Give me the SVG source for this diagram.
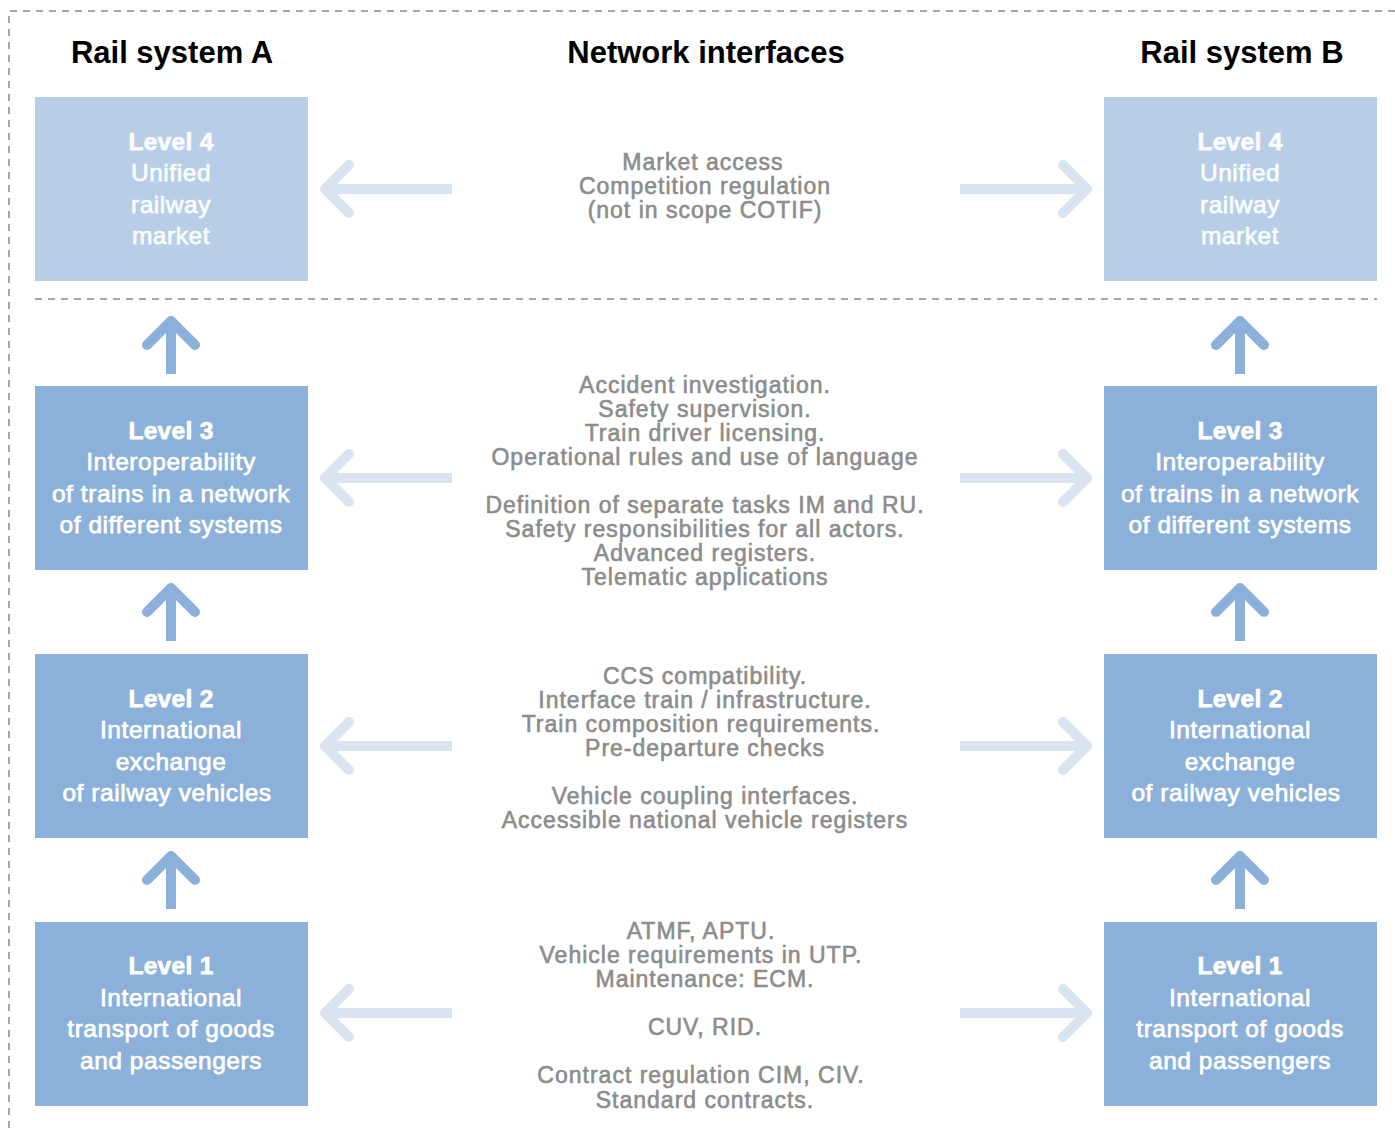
<svg xmlns="http://www.w3.org/2000/svg" width="1395" height="1128" viewBox="0 0 1395 1128">
<style>
.dash{fill:none;stroke:#aaa5a1;stroke-width:2;stroke-dasharray:7 6}
.hdr{font-family:"Liberation Sans",Arial,sans-serif;font-weight:bold;font-size:31px;fill:#000;text-anchor:middle}
.box{fill:#8bb0d9}
.box4{fill:#b8cde6}
.bt{font-family:"Liberation Sans",Arial,sans-serif;font-size:24.5px;letter-spacing:0.55px;fill:#fff;stroke:#fff;stroke-width:0.75px;text-anchor:middle}
.bt4{fill:#f8fbff;stroke:#f8fbff}
.b{font-weight:bold;letter-spacing:0.3px}
.ct{font-family:"Liberation Sans",Arial,sans-serif;font-size:23px;letter-spacing:1px;fill:#8c8c8c;stroke:#8c8c8c;stroke-width:0.6px;text-anchor:middle}
.up,.uph{fill:none;stroke:#8bb0d9;stroke-width:10;stroke-linejoin:round}
.uph{stroke-linecap:round}
.side,.sideh{fill:none;stroke:#dae4f0;stroke-width:10;stroke-linejoin:round}
.sideh{stroke-linecap:round}
</style>
<rect width="1395" height="1128" fill="#fff"/>
<path class="dash" d="M9 1128 V11 H1395"/>
<path class="dash" d="M35 299 H1377"/>
<text class="hdr" x="172" y="63">Rail system A</text>
<text class="hdr" x="706" y="63">Network interfaces</text>
<text class="hdr" x="1242" y="63">Rail system B</text>

<g id="a4"><rect class="box4" x="35" y="97" width="273" height="184"/>
<text class="bt bt4"><tspan class="b" x="171" y="150">Level 4</tspan><tspan x="171" y="181">Unified</tspan><tspan x="171" y="213">railway</tspan><tspan x="171" y="244">market</tspan></text></g>
<g id="b4"><rect class="box4" x="1104" y="97" width="273" height="184"/>
<text class="bt bt4"><tspan class="b" x="1240" y="150">Level 4</tspan><tspan x="1240" y="181">Unified</tspan><tspan x="1240" y="213">railway</tspan><tspan x="1240" y="244">market</tspan></text></g>

<g id="a3"><rect class="box" x="35" y="386" width="273" height="184"/>
<text class="bt"><tspan class="b" x="171" y="439">Level 3</tspan><tspan x="171" y="470">Interoperability</tspan><tspan x="171" y="502">of trains in a network</tspan><tspan x="171" y="533">of different systems</tspan></text></g>
<g id="b3"><rect class="box" x="1104" y="386" width="273" height="184"/>
<text class="bt"><tspan class="b" x="1240" y="439">Level 3</tspan><tspan x="1240" y="470">Interoperability</tspan><tspan x="1240" y="502">of trains in a network</tspan><tspan x="1240" y="533">of different systems</tspan></text></g>

<g id="a2"><rect class="box" x="35" y="654" width="273" height="184"/>
<text class="bt"><tspan class="b" x="171" y="707">Level 2</tspan><tspan x="171" y="738">International</tspan><tspan x="171" y="770">exchange</tspan><tspan x="167" y="801">of railway vehicles</tspan></text></g>
<g id="b2"><rect class="box" x="1104" y="654" width="273" height="184"/>
<text class="bt"><tspan class="b" x="1240" y="707">Level 2</tspan><tspan x="1240" y="738">International</tspan><tspan x="1240" y="770">exchange</tspan><tspan x="1236" y="801">of railway vehicles</tspan></text></g>

<g id="a1"><rect class="box" x="35" y="922" width="273" height="184"/>
<text class="bt"><tspan class="b" x="171" y="974">Level 1</tspan><tspan x="171" y="1006">International</tspan><tspan x="171" y="1037">transport of goods</tspan><tspan x="171" y="1069">and passengers</tspan></text></g>
<g id="b1"><rect class="box" x="1104" y="922" width="273" height="184"/>
<text class="bt"><tspan class="b" x="1240" y="974">Level 1</tspan><tspan x="1240" y="1006">International</tspan><tspan x="1240" y="1037">transport of goods</tspan><tspan x="1240" y="1069">and passengers</tspan></text></g>

<g id="i4"><text class="ct"><tspan x="703" y="170">Market access</tspan><tspan x="705" y="194">Competition regulation</tspan><tspan x="705" y="218">(not in scope COTIF)</tspan></text></g>
<g id="i3"><text class="ct"><tspan x="705" y="393">Accident investigation.</tspan><tspan x="705" y="417">Safety supervision.</tspan><tspan x="705" y="441">Train driver licensing.</tspan><tspan x="705" y="465">Operational rules and use of language</tspan><tspan x="705" y="513">Definition of separate tasks IM and RU.</tspan><tspan x="705" y="537">Safety responsibilities for all actors.</tspan><tspan x="705" y="561">Advanced registers.</tspan><tspan x="705" y="585">Telematic applications</tspan></text></g>
<g id="i2"><text class="ct"><tspan x="705" y="684">CCS compatibility.</tspan><tspan x="705" y="708">Interface train / infrastructure.</tspan><tspan x="701" y="732">Train composition requirements.</tspan><tspan x="705" y="756">Pre-departure checks</tspan><tspan x="705" y="804">Vehicle coupling interfaces.</tspan><tspan x="705" y="828">Accessible national vehicle registers</tspan></text></g>
<g id="i1"><text class="ct"><tspan x="701" y="939">ATMF, APTU.</tspan><tspan x="701" y="963">Vehicle requirements in UTP.</tspan><tspan x="705" y="987">Maintenance: ECM.</tspan><tspan x="705" y="1035">CUV, RID.</tspan><tspan x="701" y="1083">Contract regulation CIM, CIV.</tspan><tspan x="705" y="1108">Standard contracts.</tspan></text></g>

<g id="connectors">
<path class="up" d="M171 374 V324"/><path class="uph" d="M147 345 L171 321 L195 345"/>
<path class="up" d="M171 641 V591"/><path class="uph" d="M147 612 L171 588 L195 612"/>
<path class="up" d="M171 909 V859"/><path class="uph" d="M147 880 L171 856 L195 880"/>
<path class="up" d="M1240 374 V324"/><path class="uph" d="M1216 345 L1240 321 L1264 345"/>
<path class="up" d="M1240 641 V591"/><path class="uph" d="M1216 612 L1240 588 L1264 612"/>
<path class="up" d="M1240 909 V859"/><path class="uph" d="M1216 880 L1240 856 L1264 880"/>
<path class="side" d="M452 189 H328"/><path class="sideh" d="M349 165 L325 189 L349 213"/>
<path class="side" d="M452 478 H328"/><path class="sideh" d="M349 454 L325 478 L349 502"/>
<path class="side" d="M452 746 H328"/><path class="sideh" d="M349 722 L325 746 L349 770"/>
<path class="side" d="M452 1013 H328"/><path class="sideh" d="M349 989 L325 1013 L349 1037"/>
<path class="side" d="M960 189 H1084"/><path class="sideh" d="M1063 165 L1087 189 L1063 213"/>
<path class="side" d="M960 478 H1084"/><path class="sideh" d="M1063 454 L1087 478 L1063 502"/>
<path class="side" d="M960 746 H1084"/><path class="sideh" d="M1063 722 L1087 746 L1063 770"/>
<path class="side" d="M960 1013 H1084"/><path class="sideh" d="M1063 989 L1087 1013 L1063 1037"/>
</g>
</svg>
